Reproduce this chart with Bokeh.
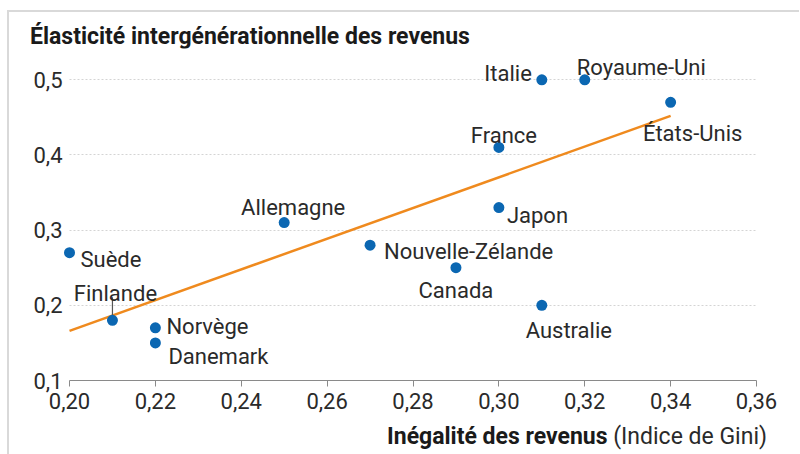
from bokeh.plotting import figure
from bokeh.models import ColumnDataSource, FixedTicker, Range1d, Div
from bokeh.layouts import column
from bokeh.core.properties import value
from bokeh.embed import file_html
from bokeh.resources import INLINE

# ---- data ----
countries = ["Suède", "Finlande", "Norvège", "Danemark", "Allemagne", "Nouvelle-Zélande",
             "Canada", "Japon", "France", "Australie", "Italie", "Royaume-Uni", "États-Unis"]
gini = [0.20, 0.21, 0.22, 0.22, 0.25, 0.27, 0.29, 0.30, 0.30, 0.31, 0.31, 0.32, 0.34]
elasticity = [0.27, 0.18, 0.17, 0.15, 0.31, 0.28, 0.25, 0.33, 0.41, 0.20, 0.50, 0.50, 0.47]

trend_x = [0.20, 0.34]
trend_y = [0.166, 0.452]

x_ticks = [0.20, 0.22, 0.24, 0.26, 0.28, 0.30, 0.32, 0.34, 0.36]
x_tick_labels = ["0,20", "0,22", "0,24", "0,26", "0,28", "0,30", "0,32", "0,34", "0,36"]
y_ticks = [0.1, 0.2, 0.3, 0.4, 0.5]
y_tick_labels = ["0,1", "0,2", "0,3", "0,4", "0,5"]

title_text = "Élasticité intergénérationnelle des revenus"
xtitle_bold = "Inégalité des revenus"
xtitle_norm = "(Indice de Gini)"

# ---- label styling (pixel offsets, alignment) ----
lab_dx = [11, 3, 11, 13, 9, 14, 0, 8, 5, 27, -10, -8, 22]
lab_dy = [7, -27, -1, 14, -15, 6, 23, 8, -12, 25, -6, -12, 31]
lab_align = ["left", "center", "left", "left", "center", "left", "center", "left",
             "center", "center", "right", "left", "center"]

FONT = "Roboto"
TXT = "#2a2a2a"
BLUE = "#0b67b2"
ORANGE = "#ef8a1e"
W = 790

title_div = Div(
    text=('<div style="font-family:Roboto,sans-serif;font-weight:bold;font-size:23px;'
          'line-height:28px;color:#1a1a1a;padding-left:21px;padding-top:11px;'
          'white-space:nowrap;">' + title_text + '</div>'),
    width=W, height=36, margin=(0, 0, 0, 0))

# x range padded a few pixels on the left so the dot at 0.20 is not clipped
x_lo, x_hi = x_ticks[0], x_ticks[-1]
p = figure(width=W, height=370, output_backend="svg", toolbar_location=None,
           x_range=Range1d(x_lo - 0.0014, x_hi), y_range=Range1d(0.1, 0.5416),
           min_border_left=54, min_border_right=43, min_border_top=0, min_border_bottom=38,
           title=None, margin=(0, 0, 0, 0))
p.outline_line_color = None
p.background_fill_color = "white"
p.border_fill_color = "white"

# grid
p.xgrid.grid_line_color = None
yg = p.ygrid[0]
yg.ticker = FixedTicker(ticks=[t for t in y_ticks if t > y_ticks[0]])
yg.grid_line_color = "#d4d4d4"
yg.grid_line_dash = "2 2"
yg.grid_line_width = 1
if "cross_bounds" in yg.properties():
    yg.cross_bounds = (x_lo, x_hi)

# x axis
xa = p.xaxis[0]
xa.ticker = FixedTicker(ticks=x_ticks)
xa.bounds = (x_lo, x_hi)
xa.major_label_overrides = {t: l for t, l in zip(x_ticks, x_tick_labels)}
xa.axis_line_color = "#8a8a8a"
xa.major_tick_line_color = "#8a8a8a"
xa.major_tick_in = 0
xa.major_tick_out = 6
xa.minor_tick_line_color = None
xa.major_label_text_font = FONT
xa.major_label_text_font_size = "22px"
xa.major_label_text_color = TXT
xa.major_label_standoff = 6

# y axis
ya = p.yaxis[0]
ya.ticker = FixedTicker(ticks=y_ticks)
ya.major_label_overrides = {t: l for t, l in zip(y_ticks, y_tick_labels)}
ya.axis_line_color = None
ya.major_tick_line_color = None
ya.major_tick_in = 0
ya.major_tick_out = 0
ya.minor_tick_line_color = None
ya.major_label_text_font = FONT
ya.major_label_text_font_size = "22px"
ya.major_label_text_color = TXT
ya.major_label_standoff = 1

# trend line
p.line(trend_x, trend_y, line_color=ORANGE, line_width=2.5)

# Finlande leader line
fi = countries.index("Finlande")
p.segment(x0=[gini[fi]], y0=[elasticity[fi] + 0.0067], x1=[gini[fi]], y1=[elasticity[fi] + 0.0306],
          line_color="#555555", line_width=1.2)

src = ColumnDataSource(dict(x=gini, y=elasticity, name=countries,
                            dx=lab_dx, dy=lab_dy, align=lab_align))
p.scatter("x", "y", source=src, size=11, fill_color=BLUE, line_color=None)
p.text("x", "y", text="name", source=src, x_offset="dx", y_offset="dy",
       text_align="align", text_baseline="alphabetic",
       text_font=value(FONT), text_font_size="22px", text_color=TXT)

xtitle_div = Div(
    text=('<div style="box-sizing:border-box;width:' + str(W) + 'px;'
          'font-family:Roboto,sans-serif;font-size:23px;line-height:24px;'
          'color:#2a2a2a;text-align:right;padding-right:32px;padding-top:7px;'
          'white-space:nowrap;"><b style="color:#1a1a1a;">' + xtitle_bold + '</b> '
          + xtitle_norm + '</div>'),
    width=W, height=36, margin=(0, 0, 0, 0))

layout = column(title_div, p, xtitle_div, spacing=0, margin=(10, 0, 0, 7))
layout.styles = {"border-left": "2px solid #d9d9d9", "border-top": "2px solid #d9d9d9"}
open("out.html", "w").write(file_html(layout, INLINE))
